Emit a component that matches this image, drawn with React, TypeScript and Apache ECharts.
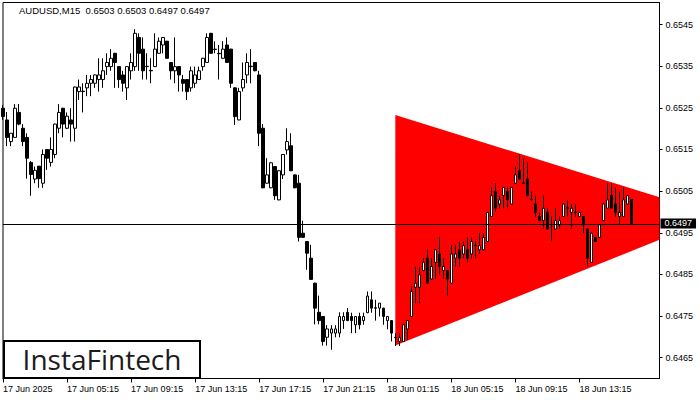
import React, { useEffect, useRef } from "react";
import * as echarts from "echarts";

// OHLC values of each 15-minute candle (AUDUSD, M15)
const opens = [
  0.65249, 0.65221, 0.65169, 0.65179, 0.65239, 0.65201, 0.65179, 0.65119, 0.65079, 0.6511,
  0.65069, 0.6515, 0.65119, 0.65138, 0.65201, 0.65249, 0.65201, 0.65221, 0.65201, 0.65289,
  0.6529, 0.65298, 0.65309, 0.65309, 0.65318, 0.65318, 0.65349, 0.65349, 0.65381, 0.65349,
  0.65329, 0.65298, 0.65339, 0.65349, 0.65419, 0.65391, 0.6535, 0.6534, 0.65349, 0.65381,
  0.65401, 0.6541, 0.65359, 0.65339, 0.65349, 0.65318, 0.65318, 0.65298, 0.65309, 0.65318,
  0.65349, 0.65359, 0.65429, 0.65391, 0.65381, 0.65369, 0.65401, 0.65391, 0.65298, 0.65221,
  0.65298, 0.65329, 0.6535, 0.65359, 0.65329, 0.65201, 0.65069, 0.65058, 0.65109, 0.65029,
  0.65089, 0.65149, 0.65159, 0.65089, 0.65069, 0.64949, 0.64929, 0.64889, 0.64829, 0.64759,
  0.64749, 0.64699, 0.64709, 0.64709, 0.64709, 0.64739, 0.64759, 0.64749, 0.64729, 0.64749,
  0.64739, 0.64758, 0.64789, 0.6477, 0.64769, 0.64769, 0.64739, 0.64739, 0.64699, 0.64689,
  0.64689, 0.64719, 0.64749, 0.64819, 0.64819, 0.64859, 0.64889, 0.64839, 0.64879, 0.64899,
  0.64859, 0.64859, 0.64829, 0.64889, 0.64909, 0.64899, 0.64909, 0.64899, 0.6492, 0.64909,
  0.64909, 0.64929, 0.64989, 0.65049, 0.65019, 0.65039, 0.65049, 0.65019, 0.65069, 0.65099,
  0.6507, 0.65079, 0.6503, 0.65019, 0.64989, 0.64979, 0.64999, 0.6497, 0.64959, 0.64969,
  0.64989, 0.6501, 0.64999, 0.65, 0.64989, 0.64989, 0.64959, 0.64879, 0.64939, 0.64939,
  0.64979, 0.65009, 0.65039, 0.65019, 0.64989, 0.64989, 0.65019, 0.6503,
];
const highs = [
  0.65257, 0.6524, 0.65189, 0.65259, 0.65259, 0.65211, 0.65189, 0.65122, 0.65109, 0.6511,
  0.6515, 0.65151, 0.65179, 0.65212, 0.65259, 0.6525, 0.65239, 0.65249, 0.65301, 0.65318,
  0.65309, 0.65329, 0.65329, 0.6533, 0.65369, 0.65369, 0.65381, 0.65391, 0.65382, 0.6535,
  0.65339, 0.6535, 0.65381, 0.65439, 0.65429, 0.65419, 0.65381, 0.65369, 0.65429, 0.65419,
  0.6542, 0.65411, 0.6536, 0.65419, 0.6535, 0.65329, 0.65319, 0.65349, 0.65349, 0.65349,
  0.6537, 0.65429, 0.6543, 0.6541, 0.65401, 0.6541, 0.65419, 0.65392, 0.65299, 0.65298,
  0.65359, 0.65381, 0.65391, 0.6536, 0.65339, 0.65211, 0.65129, 0.65119, 0.6511, 0.651,
  0.65139, 0.65201, 0.65189, 0.6509, 0.65089, 0.64979, 0.6493, 0.64921, 0.6483, 0.64799,
  0.6475, 0.64728, 0.64728, 0.64728, 0.64759, 0.64759, 0.64769, 0.64758, 0.6475, 0.64758,
  0.64758, 0.64809, 0.64809, 0.64789, 0.64781, 0.6477, 0.6475, 0.6474, 0.64709, 0.64709,
  0.6473, 0.6474, 0.64821, 0.64869, 0.64869, 0.64889, 0.64909, 0.64889, 0.6491, 0.64941,
  0.64889, 0.6486, 0.64921, 0.64921, 0.64929, 0.64929, 0.64939, 0.64939, 0.64929, 0.64949,
  0.64949, 0.65, 0.65059, 0.65069, 0.65039, 0.6506, 0.65059, 0.6506, 0.65109, 0.65139,
  0.65129, 0.65119, 0.65049, 0.65039, 0.64999, 0.65039, 0.65009, 0.64989, 0.65009, 0.64989,
  0.6502, 0.65029, 0.65019, 0.65019, 0.65, 0.6499, 0.6496, 0.6495, 0.6494, 0.6497,
  0.6502, 0.65069, 0.65069, 0.65059, 0.65049, 0.65059, 0.6504, 0.6503,
];
const lows = [
  0.65221, 0.65158, 0.65158, 0.65179, 0.65208, 0.65158, 0.6508, 0.65039, 0.65069, 0.65058,
  0.65058, 0.65101, 0.65109, 0.65129, 0.65189, 0.65179, 0.65199, 0.65169, 0.65169, 0.65269,
  0.65239, 0.65278, 0.65278, 0.65298, 0.65289, 0.65298, 0.65329, 0.65339, 0.65298, 0.65298,
  0.65289, 0.65269, 0.65318, 0.65339, 0.65339, 0.65318, 0.65318, 0.65309, 0.65348, 0.6538,
  0.65381, 0.65368, 0.65318, 0.65309, 0.65289, 0.65289, 0.65269, 0.65289, 0.65298, 0.65317,
  0.65339, 0.65358, 0.6538, 0.65381, 0.65318, 0.65368, 0.65358, 0.65298, 0.65209, 0.6522,
  0.65289, 0.65309, 0.65309, 0.65338, 0.65158, 0.65057, 0.65068, 0.65057, 0.65029, 0.65028,
  0.65079, 0.65138, 0.65098, 0.65057, 0.64929, 0.64938, 0.64861, 0.64837, 0.6473, 0.6473,
  0.64679, 0.64679, 0.64669, 0.64699, 0.64699, 0.64719, 0.64738, 0.64709, 0.64709, 0.64718,
  0.64729, 0.64757, 0.64758, 0.64739, 0.64749, 0.64729, 0.64718, 0.64689, 0.64678, 0.64678,
  0.64688, 0.64693, 0.64748, 0.64781, 0.64781, 0.64858, 0.64828, 0.64838, 0.64839, 0.64849,
  0.64839, 0.64799, 0.64828, 0.64869, 0.64869, 0.64889, 0.64879, 0.64889, 0.64889, 0.64899,
  0.64908, 0.64928, 0.64988, 0.65001, 0.65009, 0.65009, 0.65009, 0.65018, 0.65068, 0.65078,
  0.65068, 0.65038, 0.65028, 0.64989, 0.64978, 0.64959, 0.64958, 0.64929, 0.64958, 0.64959,
  0.64988, 0.64989, 0.64959, 0.64989, 0.64988, 0.64949, 0.64869, 0.64878, 0.64928, 0.64938,
  0.64978, 0.65008, 0.65008, 0.64989, 0.64969, 0.64988, 0.65018, 0.6497,
];
const closes = [
  0.65229, 0.65179, 0.65189, 0.65249, 0.65211, 0.65169, 0.65129, 0.6509, 0.651, 0.6508,
  0.65138, 0.65129, 0.6515, 0.65211, 0.65239, 0.65211, 0.6523, 0.65211, 0.653, 0.653,
  0.65289, 0.65309, 0.65318, 0.65329, 0.65329, 0.65339, 0.65359, 0.65369, 0.65359, 0.65318,
  0.65309, 0.65349, 0.65359, 0.65429, 0.65381, 0.65339, 0.65349, 0.65339, 0.65391, 0.6541,
  0.65419, 0.65369, 0.65339, 0.65349, 0.65329, 0.65309, 0.65289, 0.65339, 0.65329, 0.65339,
  0.65369, 0.65419, 0.65381, 0.6539, 0.6538, 0.65391, 0.65359, 0.65309, 0.65229, 0.65289,
  0.65318, 0.65359, 0.65349, 0.65339, 0.65189, 0.65058, 0.65089, 0.65118, 0.65039, 0.65099,
  0.65138, 0.65169, 0.65099, 0.65058, 0.64939, 0.64939, 0.64901, 0.64838, 0.64769, 0.64739,
  0.64689, 0.64719, 0.64719, 0.64719, 0.64749, 0.64749, 0.64739, 0.64739, 0.64749, 0.64729,
  0.64749, 0.64798, 0.64769, 0.64769, 0.64781, 0.64749, 0.64749, 0.64709, 0.64698, 0.64698,
  0.64729, 0.64739, 0.64809, 0.64829, 0.64849, 0.64879, 0.64829, 0.64869, 0.64909, 0.64869,
  0.64869, 0.64839, 0.64899, 0.64899, 0.64889, 0.64919, 0.64889, 0.64929, 0.64919, 0.64919,
  0.64939, 0.64999, 0.65039, 0.65009, 0.65029, 0.65059, 0.65029, 0.65059, 0.65089, 0.65079,
  0.65069, 0.65039, 0.65029, 0.64999, 0.64979, 0.65009, 0.64959, 0.64969, 0.64979, 0.64979,
  0.65019, 0.65009, 0.65009, 0.64999, 0.64999, 0.64969, 0.64889, 0.64949, 0.64929, 0.64969,
  0.65019, 0.65029, 0.65009, 0.64999, 0.64999, 0.65029, 0.65039, 0.6497,
];

const tickLabels = [
  "17 Jun 2025", "17 Jun 05:15", "17 Jun 09:15", "17 Jun 13:15", "17 Jun 17:15",
  "17 Jun 21:15", "18 Jun 01:15", "18 Jun 05:15", "18 Jun 09:15", "18 Jun 13:15",
];
const yTickValues = [0.6465, 0.6475, 0.6485, 0.6495, 0.6505, 0.6515, 0.6525, 0.6535, 0.6545];
const currentPrice = 0.6497;
const titleText = "AUDUSD,M15  0.6503 0.6503 0.6497 0.6497";

// symmetrical triangle: bar index of start / end, upper and lower line prices
const triangleX = [98, 164];
const triangleUpper = [0.65233, 0.65035];
const triangleLower = [0.64679, 0.64933];

const SLOTS = 165;
const LABEL_EVERY = 16;

export default function App() {
  const ref = useRef<HTMLDivElement>(null);

  useEffect(() => {
    const chart = echarts.init(ref.current!, null, { renderer: "svg" });
    const start = Date.UTC(2025, 5, 17, 1, 15);
    const pad = (n: number) => String(n).padStart(2, "0");
    const categories = Array.from({ length: SLOTS }, (_, i) => {
      const d = new Date(start + i * 15 * 60000);
      return `${d.getUTCFullYear()}-${pad(d.getUTCMonth() + 1)}-${pad(d.getUTCDate())} ${pad(d.getUTCHours())}:${pad(d.getUTCMinutes())}`;
    });
    const candleData = opens.map((o, i) => [o, closes[i], lows[i], highs[i]]);
    const showIdx = (idx: number) => idx % LABEL_EVERY === 0 && idx / LABEL_EVERY < tickLabels.length;
    const font = "Liberation Sans";

    chart.setOption({
      animation: false,
      title: {
        text: titleText,
        left: 19,
        top: 5,
        padding: 0,
        textStyle: { fontSize: 9.5, fontWeight: "normal", color: "#000", fontFamily: font },
      },
      grid: {
        left: 2.5,
        right: 40.5,
        top: 2.5,
        bottom: 21.5,
        show: true,
        borderColor: "#000",
        borderWidth: 1,
        backgroundColor: "#fff",
      },
      xAxis: {
        type: "category",
        data: categories,
        boundaryGap: false,
        axisLine: { show: true, lineStyle: { color: "#000", width: 1 } },
        axisTick: { show: true, length: 4, interval: (idx: number) => showIdx(idx), lineStyle: { color: "#000" } },
        axisLabel: {
          interval: (idx: number) => showIdx(idx),
          formatter: (_v: string, idx: number) => tickLabels[idx / LABEL_EVERY] ?? "",
          align: "left",
          color: "#000",
          fontSize: 9,
          fontFamily: font,
          margin: 6,
        },
        splitLine: { show: false },
      },
      yAxis: {
        type: "value",
        position: "right",
        min: 0.646,
        max: 0.65503,
        scale: true,
        axisLine: { show: true, lineStyle: { color: "#000", width: 1 } },
        axisTick: { show: true, length: 3, customValues: yTickValues, lineStyle: { color: "#000" } },
        axisLabel: {
          customValues: yTickValues,
          formatter: (v: number) => v.toFixed(4),
          color: "#000",
          fontSize: 9,
          fontFamily: font,
          margin: 6,
        },
        splitLine: { show: false },
      },
      series: [
        {
          type: "custom",
          silent: true,
          z: 1,
          clip: true,
          dimensions: ["x0", "x1", "u0", "u1", "l0", "l1"],
          encode: { x: 0, y: 2 },
          data: [[triangleX[0], triangleX[1], triangleUpper[0], triangleUpper[1], triangleLower[0], triangleLower[1]]],
          renderItem: (_params: any, api: any) => {
            const x0 = api.value(0);
            const x1 = api.value(1);
            const p1 = api.coord([x0, api.value(2)]);
            const p2 = api.coord([x1, api.value(3)]);
            const p3 = api.coord([x1, api.value(5)]);
            const p4 = api.coord([x0, api.value(4)]);
            return {
              type: "polygon",
              shape: { points: [p1, p2, p3, p4] },
              style: { fill: "#ff0000", stroke: "none" },
            };
          },
        },
        {
          type: "candlestick",
          z: 3,
          barWidth: 3,
          data: candleData,
          itemStyle: {
            color: "#ffffff",
            color0: "#000000",
            borderColor: "#000000",
            borderColor0: "#000000",
            borderWidth: 1,
          },
          markLine: {
            silent: true,
            precision: 4,
            symbol: ["none", "none"],
            data: [{ yAxis: currentPrice }],
            lineStyle: { color: "#000", width: 1, type: "solid" },
            label: {
              show: true,
              position: "end",
              formatter: currentPrice.toFixed(4),
              color: "#fff",
              backgroundColor: "#000",
              padding: [0, 4, 0, 4],
              lineHeight: 10,
              fontSize: 9,
              fontFamily: font,
              distance: 1,
              offset: [0, -1],
            },
            emphasis: { disabled: true },
          },
        },
      ],
      graphic: [
        {
          type: "rect",
          z: 100,
          shape: { x: 4, y: 341, width: 196, height: 37 },
          style: { fill: "#fff", stroke: "#000", lineWidth: 2 },
        },
        {
          type: "text",
          z: 101,
          x: 102,
          y: 359,
          style: {
            text: "InstaFintech",
            fontSize: 28,
            fontFamily: "Open Sans",
            fontWeight: "normal",
            fill: "#1b1b1b",
            align: "center",
            verticalAlign: "middle",
          },
        },
      ],
    });

    return () => chart.dispose();
  }, []);

  return (
    <div
      ref={ref}
      style={{ position: "fixed", left: 0, top: 0, width: 700, height: 400, background: "#fff" }}
    />
  );
}
